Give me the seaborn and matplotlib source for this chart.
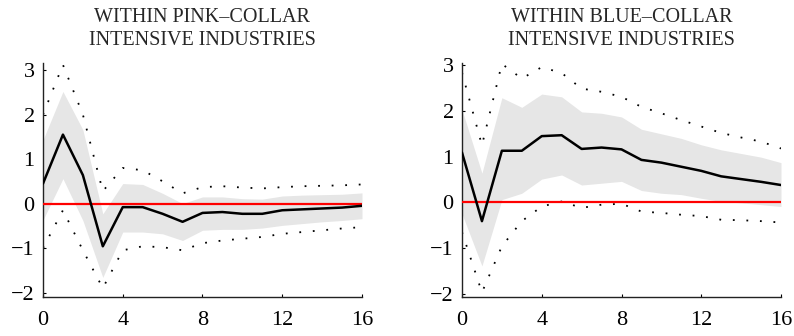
import numpy as np
import pandas as pd
import matplotlib
matplotlib.use("Agg")
import matplotlib.pyplot as plt
import seaborn as sns

# ---- data ----
horizon = list(range(17))

pink_mean = [0.45, 1.55, 0.64, -0.96, -0.08, -0.08, -0.23, -0.41, -0.21, -0.19,
             -0.23, -0.23, -0.15, -0.13, -0.11, -0.09, -0.05]
pink_band_hi = [1.43, 2.52, 1.66, -0.23, 0.45, 0.43, 0.23, 0.00, 0.15, 0.15,
                0.11, 0.10, 0.17, 0.19, 0.20, 0.21, 0.24]
pink_band_lo = [-0.37, 0.56, -0.38, -1.66, -0.64, -0.64, -0.68, -0.83, -0.60, -0.58,
                -0.58, -0.55, -0.49, -0.45, -0.41, -0.38, -0.34]
pink_dot_hi = [2.00, 3.12, 2.00, 0.28, 0.80, 0.75, 0.50, 0.23, 0.37, 0.39,
               0.36, 0.34, 0.37, 0.39, 0.40, 0.41, 0.43]
pink_dot_lo = [-1.00, -0.15, -1.05, -1.90, -1.05, -0.96, -0.98, -1.05, -0.89, -0.83,
               -0.79, -0.75, -0.68, -0.64, -0.60, -0.56, -0.53]

blue_mean = [1.09, -0.41, 1.13, 1.13, 1.45, 1.47, 1.17, 1.20, 1.16, 0.93,
             0.87, 0.78, 0.69, 0.57, 0.51, 0.45, 0.38]
blue_band_hi = [2.03, 0.64, 2.29, 2.08, 2.37, 2.31, 1.98, 1.95, 1.87, 1.60,
                1.50, 1.40, 1.26, 1.15, 1.07, 0.99, 0.87]
blue_band_lo = [-0.25, -1.39, 0.06, 0.20, 0.51, 0.60, 0.38, 0.42, 0.46, 0.26,
                0.20, 0.17, 0.09, 0.02, -0.01, -0.05, -0.09]
blue_dot_hi = [2.84, 1.25, 3.03, 2.71, 2.96, 2.83, 2.49, 2.42, 2.31, 2.09,
               1.95, 1.80, 1.66, 1.52, 1.42, 1.33, 1.18]
blue_dot_lo = [-0.65, -1.97, -0.96, -0.41, -0.09, 0.02, -0.12, -0.05, -0.03, -0.20,
               -0.23, -0.27, -0.30, -0.38, -0.39, -0.41, -0.44]

titles = ["WITHIN PINK\u2013COLLAR\nINTENSIVE INDUSTRIES",
          "WITHIN BLUE\u2013COLLAR\nINTENSIVE INDUSTRIES"]
xticks = [0, 4, 8, 12, 16]
yticks = [-2, -1, 0, 1, 2, 3]
ylims = [(-2.1, 3.16), (-2.07, 3.05)]

sns.set_style("ticks")
plt.rcParams["font.family"] = ["Liberation Serif", "DejaVu Serif"]
plt.rcParams["axes.unicode_minus"] = True

fig = plt.figure(figsize=(7.94, 3.36), dpi=100)
positions = [[43 / 794, 39 / 336, 319 / 794, 234 / 336],
             [462 / 794, 39 / 336, 319 / 794, 234 / 336]]

panels = [
    (pink_mean, pink_band_lo, pink_band_hi, pink_dot_lo, pink_dot_hi),
    (blue_mean, blue_band_lo, blue_band_hi, blue_dot_lo, blue_dot_hi),
]

for i, (mean, blo, bhi, dlo, dhi) in enumerate(panels):
    ax = fig.add_axes(positions[i])
    df = pd.DataFrame({"h": horizon, "mean": mean, "blo": blo, "bhi": bhi,
                       "dlo": dlo, "dhi": dhi})
    ax.fill_between(df["h"], df["blo"], df["bhi"], color="#e6e6e6",
                    linewidth=0, zorder=1)
    for col in ["dlo", "dhi"]:
        sns.lineplot(data=df, x="h", y=col, ax=ax, color="black",
                     linewidth=1.3, linestyle=(0, (1, 6.5)), zorder=2)
    ax.axhline(0, color="#ff0000", linewidth=1.6, zorder=3)
    sns.lineplot(data=df, x="h", y="mean", ax=ax, color="black",
                 linewidth=1.8, zorder=4)
    ax.set_xlim(0, 16)
    ax.set_ylim(*ylims[i])
    ax.set_xticks(xticks)
    ax.set_yticks(yticks)
    ax.set_xlabel("")
    ax.set_ylabel("")
    ax.tick_params(direction="in", length=2.5, width=0.8, labelsize=16,
                   colors="black")
    ax.tick_params(axis="x", pad=10)
    ax.tick_params(axis="y", pad=6)
    for s in ["top", "right"]:
        ax.spines[s].set_visible(False)
    for s in ["left", "bottom"]:
        ax.spines[s].set_linewidth(1.0)
        ax.spines[s].set_color("#222222")
    ax.set_title(titles[i], fontsize=14.5, pad=13, linespacing=1.3)

fig.savefig("out.png", dpi=100)
